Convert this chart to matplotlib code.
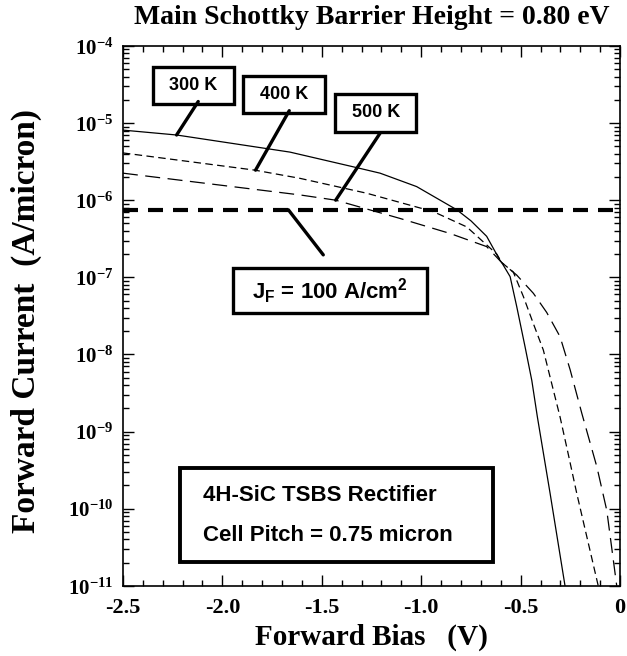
import math
import matplotlib
matplotlib.use("Agg")
import matplotlib.pyplot as plt
from matplotlib.ticker import MultipleLocator, LogLocator, FixedLocator, FixedFormatter, FuncFormatter, NullFormatter
from matplotlib.patches import Rectangle

plt.rcParams['mathtext.fontset'] = 'custom'
plt.rcParams['mathtext.rm'] = 'Liberation Serif:bold'
plt.rcParams['mathtext.it'] = 'Liberation Serif:bold:italic'
plt.rcParams['mathtext.bf'] = 'Liberation Serif:bold'
plt.rcParams['mathtext.sf'] = 'Liberation Sans:bold'
plt.rcParams['axes.unicode_minus'] = False

# forward bias (V) and current (A/micron)
v_300 = [-2.5, -2.23, -1.66, -1.34, -1.207, -1.023, -0.821, -0.75, -0.671, -0.604, -0.595,
         -0.553, -0.52, -0.478, -0.444, -0.416, -0.352, -0.277]
j_300 = [8.1e-6, 7.0e-6, 4.2e-6, 2.7e-6, 2.24e-6, 1.5e-6, 7.5e-7, 5.4e-7, 3.4e-7, 1.66e-7, 1.55e-7,
         1.02e-7, 4.2e-8, 1.26e-8, 4.6e-9, 1.55e-9, 1.58e-10, 1e-11]

v_400 = [-2.5, -1.836, -1.61, -1.274, -0.939, -0.771, -0.62, -0.595, -0.537, -0.486,
         -0.436, -0.386, -0.344, -0.302, -0.26, -0.218, -0.11]
j_400 = [4.1e-6, 2.45e-6, 1.92e-6, 1.23e-6, 7.1e-7, 4.5e-7, 2.0e-7, 1.55e-7, 1.17e-7, 5.6e-8,
         2.5e-8, 1.14e-8, 4.2e-9, 1.55e-9, 5.0e-10, 1.58e-10, 1e-11]

v_500 = [-2.5, -1.61, -1.43, -1.107, -0.855, -0.671, -0.595, -0.52, -0.436, -0.369,
         -0.302, -0.251, -0.193, -0.117, -0.067, -0.017]
j_500 = [2.24e-6, 1.17e-6, 1.0e-6, 5.8e-7, 3.7e-7, 2.5e-7, 1.55e-7, 1.07e-7, 6.2e-8, 3.5e-8,
         1.7e-8, 6.3e-9, 1.74e-9, 3.5e-10, 9.5e-11, 1e-11]

j_f = 7.5e-7  # 100 A/cm2 x 0.75 micron pitch

temps = ['300 K', '400 K', '500 K']
# leader line end points on each curve
leader_v = [-2.23, -1.833, -1.43]
leader_j = [7.0e-6, 2.45e-6, 1.0e-6]

xticks = [-2.5, -2.0, -1.5, -1.0, -0.5, 0.0]
xtick_labels = ['-2.5', '-2.0', '-1.5', '-1.0', '-0.5', '0']
ydecades = [-11, -10, -9, -8, -7, -6, -5, -4]

fig = plt.figure(figsize=(6.27, 6.56), dpi=100)
ax = fig.add_axes([0.196, 0.107, 0.793, 0.823])

ax.plot(v_300, j_300, color='black', lw=0.9)
ax.plot(v_400, j_400, color='black', lw=0.9, linestyle=(0, (6, 3.5)))
ax.plot(v_500, j_500, color='black', lw=0.9, linestyle=(0, (12, 6)))
ax.axhline(j_f, color='black', lw=3, linestyle=(0, (3.6, 2.4)))

ax.set_yscale('log')
ax.set_xlim(-2.5, 0)
ax.set_ylim(1e-11, 1e-4)

ax.xaxis.set_major_locator(FixedLocator(xticks))
ax.xaxis.set_major_formatter(FixedFormatter(xtick_labels))
ax.xaxis.set_minor_locator(MultipleLocator(0.1))
ax.yaxis.set_major_locator(FixedLocator([10.0 ** d for d in ydecades]))
ax.yaxis.set_major_formatter(FuncFormatter(lambda val, pos: r'$10^{%d}$' % round(math.log10(val))))
ax.yaxis.set_minor_locator(LogLocator(base=10, subs=range(2, 10), numticks=20))
ax.yaxis.set_minor_formatter(NullFormatter())

ax.tick_params(which='both', direction='in', top=True, right=True, width=1)
ax.tick_params(which='major', length=8)
ax.tick_params(which='minor', length=4)
ax.tick_params(axis='x', which='major', pad=9)
ax.tick_params(axis='y', which='major', pad=7)
for lab in ax.get_xticklabels():
    lab.set_fontfamily('Liberation Serif')
    lab.set_fontweight('bold')
    lab.set_fontsize(16)
for lab in ax.get_yticklabels():
    lab.set_fontsize(15)
for sp in ax.spines.values():
    sp.set_linewidth(1.2)

ax.set_xlabel('Forward Bias   (V)', fontfamily='Liberation Serif', fontweight='bold', fontsize=21)
ax.set_ylabel('Forward Current  (A/micron)', fontfamily='Liberation Serif', fontweight='bold', fontsize=24)
ax.xaxis.set_label_coords(0.5, -0.07)
ax.yaxis.set_label_coords(-0.163, 0.49)

fig.text(0.593, 0.974, 'Main Schottky Barrier Height = 0.80 eV', ha='center', va='center',
         fontfamily='Liberation Serif', fontweight='bold', fontsize=20)

box_font = dict(fontfamily='Liberation Sans', fontweight='bold', fontsize=13)
big_font = dict(fontfamily='Liberation Sans', fontweight='bold', fontsize=16)

# temperature label boxes (axes fractions) and leader starts
temp_boxes = [(0.061, 0.892, 0.162, 0.069), (0.242, 0.875, 0.165, 0.070), (0.427, 0.841, 0.163, 0.070)]
leader_start = [(0.1515, 0.897), (0.3346, 0.880), (0.517, 0.838)]
for name, (x0, y0, w, h), start, lv, lj in zip(temps, temp_boxes, leader_start, leader_v, leader_j):
    ax.add_patch(Rectangle((x0, y0), w, h, transform=ax.transAxes, fill=False, lw=2.4,
                           edgecolor='black', clip_on=False))
    ax.text(x0 + w / 2, y0 + h / 2, name, transform=ax.transAxes, ha='center', va='center', **box_font)
    ax.annotate('', xy=(lv, lj), xycoords='data', xytext=start, textcoords='axes fraction',
                arrowprops=dict(arrowstyle='-', lw=2.4, color='black', shrinkA=0, shrinkB=0))

# J_F box
ax.add_patch(Rectangle((0.221, 0.505), 0.390, 0.083, transform=ax.transAxes, fill=False, lw=2.4,
                       edgecolor='black'))
ax.text(0.416, 0.545, r'$\mathsf{J_F}$ = 100 A/$\mathsf{cm^2}$', transform=ax.transAxes,
        ha='center', va='center', **big_font)
ax.annotate('', xy=(-1.668, j_f), xycoords='data', xytext=(0.403, 0.613), textcoords='axes fraction',
            arrowprops=dict(arrowstyle='-', lw=2.4, color='black', shrinkA=0, shrinkB=0))

# device box
ax.add_patch(Rectangle((0.115, 0.044), 0.629, 0.175, transform=ax.transAxes, fill=False, lw=2.8,
                       edgecolor='black'))
ax.text(0.161, 0.168, '4H-SiC TSBS Rectifier', transform=ax.transAxes, ha='left', va='center', **big_font)
ax.text(0.161, 0.094, 'Cell Pitch = 0.75 micron', transform=ax.transAxes, ha='left', va='center', **big_font)

fig.savefig('out.png', dpi=100)
